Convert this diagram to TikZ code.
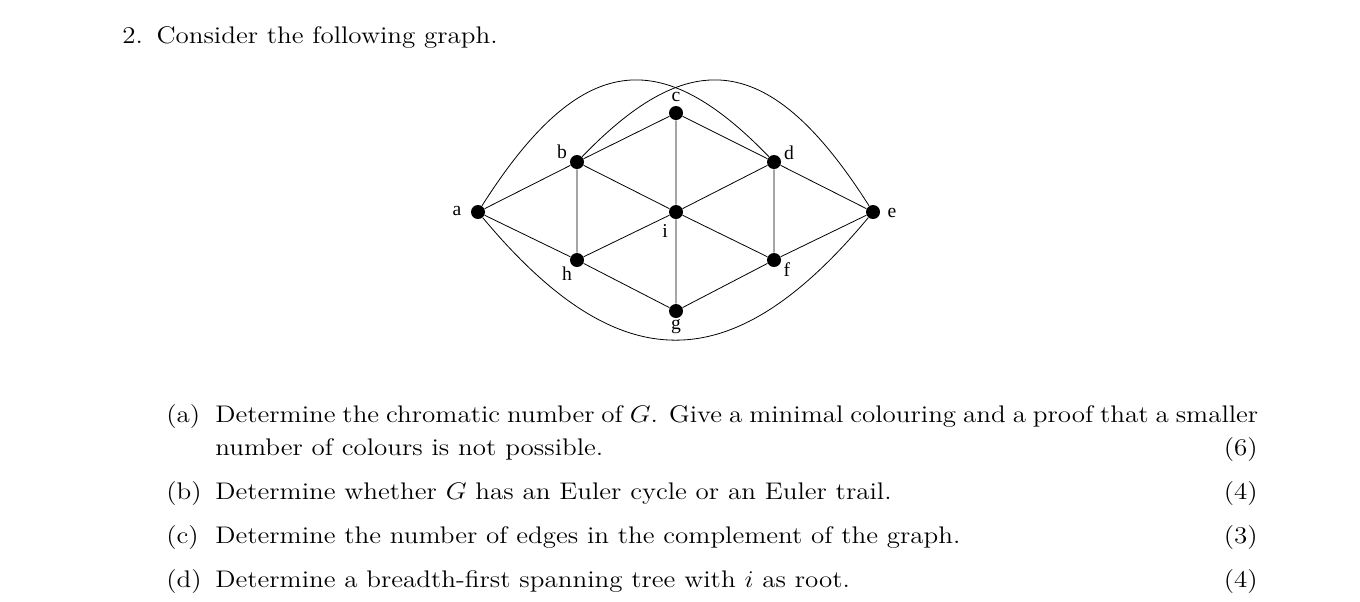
\documentclass[tikz,border=0pt]{standalone}
\usepackage{fontspec}
\usepackage{graphicx}
\newfontfamily\lblfont{Liberation Serif}
\usetikzlibrary{positioning}
\newcommand{\widetext}[1]{\scalebox{1.126}[1]{#1}}

\begin{document}
\begin{tikzpicture}[%
    x=0.5pt,
    y=-0.5pt,
    vertex/.style={%
      circle,
      fill=black,
      inner sep=0pt,
      minimum size=7pt
    },
    lbl/.style={font=\lblfont\fontsize{9.8}{10}\selectfont, inner sep=1pt},
    txt/.style={%
      anchor=base west,
      inner sep=0pt,
      font=\fontsize{12}{14}\selectfont
    },
    points/.style={%
      anchor=base east,
      inner sep=0pt,
      font=\fontsize{12}{14}\selectfont
    }
  ]
    \useasboundingbox (0,0) rectangle (1360,601);

    % the graph
    \node[vertex] (a) at (478,212) {};
    \node[vertex] (b) at (577,162) {};
    \node[vertex] (c) at (676,113) {};
    \node[vertex] (d) at (774,162) {};
    \node[vertex] (e) at (873,212) {};
    \node[vertex] (f) at (774,260) {};
    \node[vertex] (g) at (676,311) {};
    \node[vertex] (h) at (577,260) {};
    \node[vertex] (i) at (676,212) {};

    \node[lbl] (la) at (457,211) {a};
    \node[lbl] (lb) at (562,152) {b};
    \node[lbl] (lc) at (676,97)  {c};
    \node[lbl] (ld) at (789,153) {d};
    \node[lbl] (le) at (892,213) {e};
    \node[lbl] (lf) at (787,270) {f};
    \node[lbl] (lg) at (676,327) {g};
    \node[lbl] (lh) at (567,274) {h};
    \node[lbl] (li) at (665,231) {i};

    \path[draw,thin] (a) -- (b)   (a) -- (h)
          (b) -- (c)   (b) -- (i)   (b) -- (h)
          (c) -- (i)   (c) -- (d)
          (d) -- (i)   (d) -- (e)   (d) -- (f)
          (i) -- (h)   (i) -- (f)   (i) -- (g)
          (h) -- (g)   (g) -- (f)   (f) -- (e);
    \draw[thin] (a) .. controls (581,50) and (661,45) .. (d);
    \draw[thin] (b) .. controls (690,45) and (770,50) .. (e);
    \draw[thin] (a) .. controls (619,381) and (732,381) .. (e);

    % the questions
    \node[txt] (q)  at (122,43) {\widetext{2.\enspace Consider the following graph.}};
    \node[txt] (qa) at (166,422) {\widetext{(a)}};
    \node[txt] (ta) at (215,422) {\widetext{\makebox[463.1pt][s]{Determine the chromatic number of $G$. Give a minimal colouring and a proof that a smaller}}};
    \node[txt] (ta2) at (215,455) {\widetext{number of colours is not possible.}};
    \node[points] (pa) at (1258,455) {\widetext{(6)}};
    \node[txt] (qb) at (166,499) {\widetext{(b)}};
    \node[txt] (tb) at (215,499) {\widetext{Determine whether $G$ has an Euler cycle or an Euler trail.}};
    \node[points] (pb) at (1258,499) {\widetext{(4)}};
    \node[txt] (qc) at (166,543) {\widetext{(c)}};
    \node[txt] (tc) at (215,543) {\widetext{Determine the number of edges in the complement of the graph.}};
    \node[points] (pc) at (1258,543) {\widetext{(3)}};
    \node[txt] (qd) at (166,587) {\widetext{(d)}};
    \node[txt] (td) at (215,587) {\widetext{Determine a breadth-first spanning tree with $i$ as root.}};
    \node[points] (pd) at (1258,587) {\widetext{(4)}};
  \end{tikzpicture}
\end{document}
